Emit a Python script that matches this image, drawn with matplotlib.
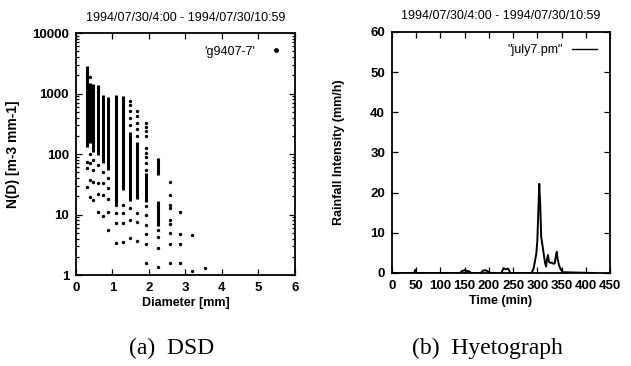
import matplotlib
matplotlib.use("Agg")
import matplotlib.pyplot as plt
from matplotlib.ticker import LogLocator, NullFormatter, FuncFormatter

SANS = ["Liberation Sans Narrow", "Liberation Sans", "DejaVu Sans"]
SERIF = ["Liberation Serif", "DejaVu Serif"]
TITULO = "1994/07/30/4:00 - 1994/07/30/10:59"

# ------------------------------------------------------------ DSD (painel a)
# faixas densas (muitos minutos sobrepostos) por classe de diâmetro
faixa_d = [0.30, 0.38, 0.47, 0.60, 0.73, 0.87, 1.09, 1.30, 1.48, 1.66,
           1.91, 2.26, 2.26]
faixa_lo = [130, 150, 110, 95, 70, 55, 15, 25, 17, 18, 16, 6.5, 45]
faixa_hi = [2800, 1500, 1450, 1400, 950, 880, 950, 900, 230, 160, 48, 17, 85]

# pontos isolados
ponto_d = ([0.30] * 4 + [0.38] * 5 + [0.47] * 4 + [0.60] * 4 + [0.73] * 4
           + [0.87] * 5 + [1.09] * 4 + [1.30] * 4 + [1.48] * 8 + [1.66] * 8
           + [1.91] * 15 + [2.26] * 4 + [2.57] * 9 + [2.86] * 4
           + [3.19] * 2 + [3.53])
ponto_n = [74, 58, 29, 2000,
           1900, 100, 70, 37, 19.5,
           80, 55, 35, 17.4,
           65, 33, 22, 11.2,
           50, 33, 21, 9.5,
           40, 27, 18, 11.2, 5.5,
           14.5, 10.5, 7.2, 3.4,
           14.5, 10.5, 7.2, 3.5,
           300, 400, 520, 650, 750, 13, 8.1, 4.1,
           200, 260, 330, 420, 520, 10.5, 7.5, 3.6,
           330, 280, 240, 200, 125, 105, 90, 70, 55, 14, 10, 6.7, 4.8, 3.3, 1.6,
           5.5, 4.2, 2.8, 1.37,
           35, 21, 14.5, 12.7, 8.1, 6.9, 4.9, 3.2, 1.6,
           11, 4.7, 3.2, 1.55,
           4.6, 1.17,
           1.3]

# ------------------------------------------------------------ hietograma (b)
tempo = [0, 46, 48, 50, 140, 145, 150, 155, 160, 163, 183, 188, 193, 198,
         203, 226, 230, 235, 240, 244, 288, 292, 295, 298, 300, 302, 304,
         306, 308, 311, 314, 316, 318, 320, 322, 324, 327, 330, 333, 336,
         338, 340, 342, 345, 348, 352, 419]
chuva = [0, 0, 0.8, 0, 0, 0.5, 0.7, 0.5, 0.4, 0, 0, 0.6, 0.7, 0.4,
         0, 0, 1.2, 0.9, 1.1, 0, 0, 1.0, 2.8, 4.9, 8, 15, 22.2,
         17, 9, 6.6, 4.1, 2.5, 1.6, 3.5, 4.5, 2.8, 2.5, 2.6, 2.3, 2.4,
         4.0, 5.3, 3.5, 1.8, 1.0, 0.2, 0]


def _estilo(ax):
    for s in ax.spines.values():
        s.set_linewidth(1.3)
    ax.tick_params(which="both", direction="in", top=True, right=True,
                   width=0.9, colors="black")
    ax.tick_params(which="major", length=4, pad=5)
    ax.tick_params(which="minor", length=2)
    for lb in ax.get_xticklabels() + ax.get_yticklabels():
        lb.set_family(SANS)
        lb.set_fontweight("bold")
        lb.set_fontsize(9.5)


fig = plt.figure(figsize=(6.31, 3.66), dpi=100)
fig.patch.set_facecolor("white")

# painel (a)
ax1 = fig.add_axes([0.1204, 0.2486, 0.3471, 0.6612])
ax1.vlines(faixa_d, faixa_lo, faixa_hi, colors="black", lw=2.2)
ax1.scatter(ponto_d, ponto_n, s=6, c="black", linewidths=0)
ax1.plot([], [], ls="none", marker="o", ms=2.5, color="black",
         label="'g9407-7'")
ax1.set_yscale("log")
ax1.set_xlim(0, 6)
ax1.set_ylim(1, 10000)
ax1.set_xticks(range(0, 7))
ax1.yaxis.set_major_locator(LogLocator(base=10, numticks=10))
ax1.yaxis.set_minor_locator(LogLocator(base=10, subs=range(2, 10),
                                       numticks=20))
ax1.yaxis.set_minor_formatter(NullFormatter())
ax1.yaxis.set_major_formatter(FuncFormatter(lambda v, p: f"{v:g}"))
ax1.set_xlabel("Diameter [mm]", family=SANS, fontweight="bold",
               fontsize=9, labelpad=2)
ax1.set_ylabel("N(D) [m-3 mm-1]", family=SANS, fontweight="bold",
               fontsize=10, labelpad=9)
ax1.set_title(TITULO, family=SANS, fontsize=9, pad=9)
ax1.legend(loc="upper right", frameon=False, markerfirst=False,
           handlelength=1.0, handletextpad=1.2, borderaxespad=0.6,
           prop={"family": SANS, "size": 9})
_estilo(ax1)

# painel (b)
ax2 = fig.add_axes([0.6212, 0.2541, 0.3455, 0.6585])
ax2.plot(tempo, chuva, color="black", lw=1.4, label='"july7.pm"')
ax2.set_xlim(0, 450)
ax2.set_ylim(0, 60)
ax2.set_xticks(range(0, 451, 50))
ax2.set_yticks(range(0, 61, 10))
ax2.set_xlabel("Time (min)", family=SANS, fontweight="bold",
               fontsize=9, labelpad=2)
ax2.set_ylabel("Rainfall Intensity (mm/h)", family=SANS, fontweight="bold",
               fontsize=9, labelpad=18)
ax2.set_title(TITULO, family=SANS, fontsize=9, pad=9)
leg = ax2.legend(loc="upper right", frameon=False, markerfirst=False,
                 handlelength=2.0, handletextpad=0.8, borderaxespad=0.6,
                 prop={"family": SANS, "size": 9})
leg.get_lines()[0].set_linewidth(1.0)
_estilo(ax2)

# legendas das figuras
fig.text(172 / 631, 1 - 348 / 366, "(a)  DSD", ha="center", va="center",
         family=SERIF, fontsize=17)
fig.text(487 / 631, 1 - 348 / 366, "(b)  Hyetograph", ha="center",
         va="center", family=SERIF, fontsize=17)

fig.savefig("out.png", dpi=100)
